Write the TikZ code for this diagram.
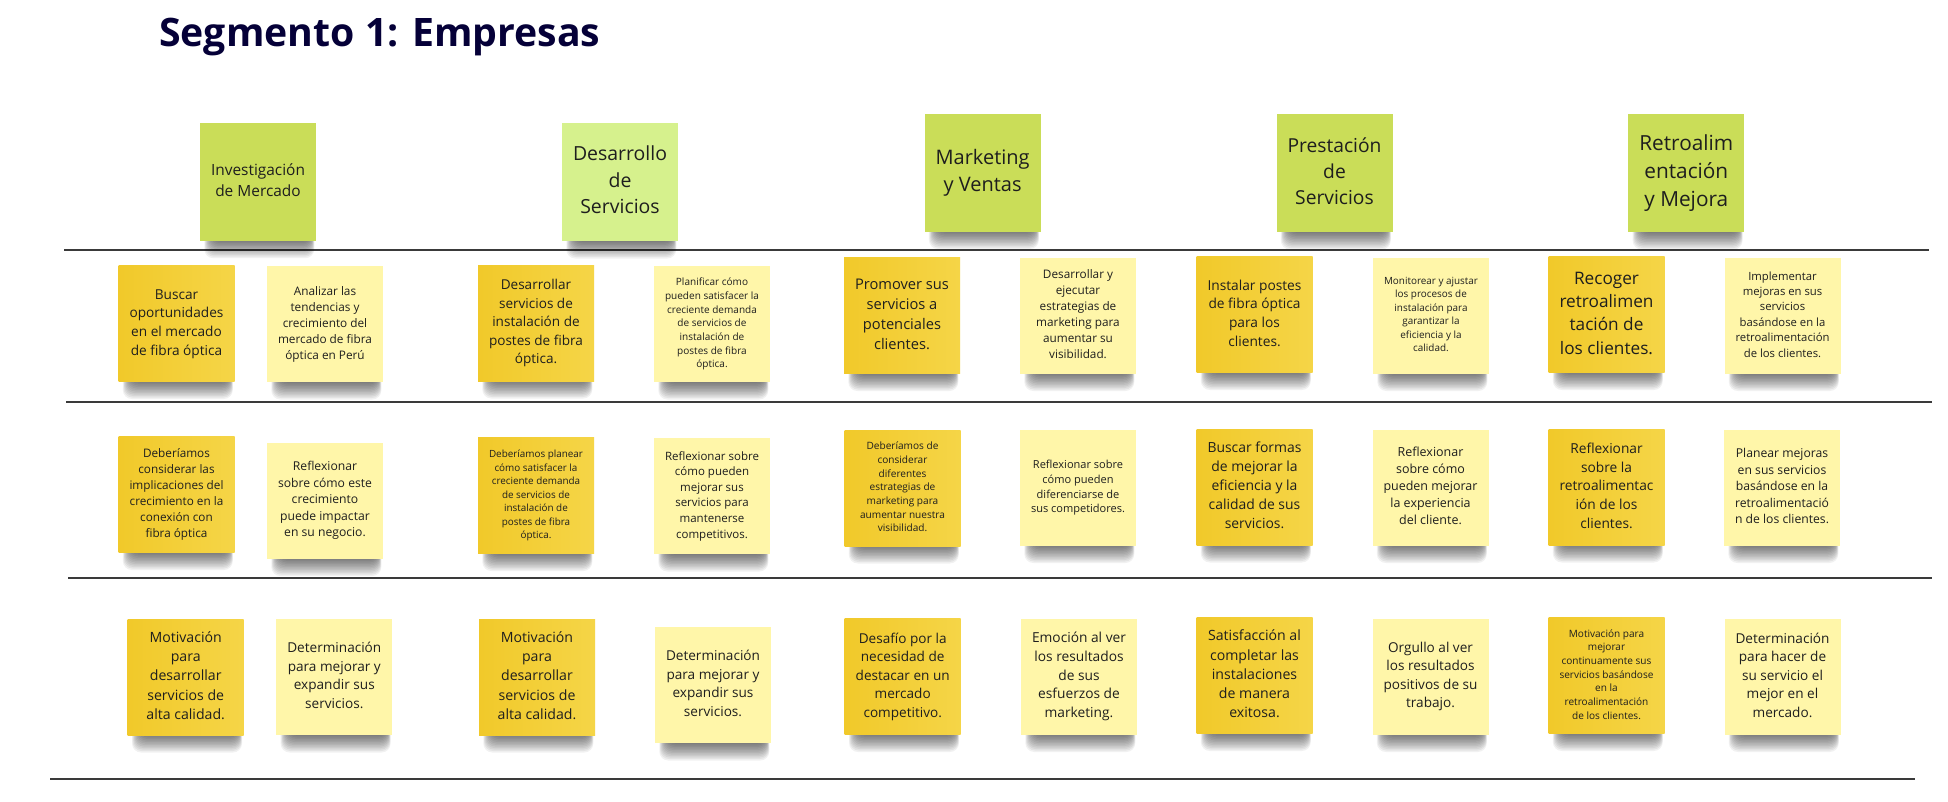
\documentclass[tikz,border=0pt]{standalone}
\usepackage{fontspec}
\setmainfont{Open Sans}
\usepackage{graphicx}
\usetikzlibrary{calc}

\definecolor{ndA}{HTML}{F1C92A}
\definecolor{ndB}{HTML}{F5D547}
\definecolor{notelight}{HTML}{FFF6A9}
\definecolor{headgreen}{HTML}{CADD58}
\definecolor{headpale}{HTML}{D6F18D}
\definecolor{inktext}{HTML}{1E1E1E}
\definecolor{titleink}{HTML}{050038}
\definecolor{rulegray}{HTML}{3A3A3A}

% Text of a note: set at 10pt, then scaled so that it fills the note
\newsavebox\fitbox
\newlength\fitw
\newlength\fith
\newcommand\fitlines[3]{%
  \sbox\fitbox{\fontsize{10pt}{13.6pt}\selectfont\begin{tabular}{@{}c@{}}#3\end{tabular}}%
  \setlength\fitw{\wd\fitbox}%
  \setlength\fith{\ht\fitbox}\addtolength\fith{\dp\fitbox}%
  \pgfmathsetmacro\fitscale{min(#1/\fitw,#2/\fith)}%
  \scalebox{\fitscale}{\usebox\fitbox}}

\tikzset{
  note/.style={minimum width=116pt, minimum height=116pt, inner sep=0pt, text=inktext},
  darknote/.style={note, left color=ndA, right color=ndB},
  lightnote/.style={note, fill=notelight},
  headnote/.style={note, minimum height=118pt, fill=headgreen},
  palehead/.style={headnote, fill=headpale},
  rule/.style={rulegray, line width=2.6pt},
}

% soft shadow under the bottom edge of a note, then the note itself
\newcommand\notebox[6]{% name, style, cx, cy, half height, lines
  \foreach \k in {0,...,11}{%
    \fill[black,opacity=0.055,rounded corners=9pt]
      ({#3-46-0.7*\k},{#4+#5-16}) rectangle ({#3+53+0.3*\k},{#4+#5+1+1.5*\k});}%
  \node[#2] (#1) at (#3,#4) {\fitlines{94}{96}{#6}};}

\begin{document}
\begin{tikzpicture}[x=1pt,y=-1pt]
\fill[white] (0,0) rectangle (1948,801);
\useasboundingbox (0,0) rectangle (1948,801);

% title
\node[anchor=base west, inner sep=0pt, text=titleink, font=\bfseries] (title) at (159,46)
  {\resizebox{441pt}{!}{Segmento 1: Empresas}};

% row separators
\coordinate (r1a) at (64,250);  \coordinate (r1b) at (1929,250);
\coordinate (r2a) at (66,402);  \coordinate (r2b) at (1932,402);
\coordinate (r3a) at (68,578);  \coordinate (r3b) at (1932,578);
\coordinate (r4a) at (50,779);  \coordinate (r4b) at (1915,779);
\draw[rule] (r1a) -- (r1b);
\draw[rule] (r2a) -- (r2b);
\draw[rule] (r3a) -- (r3b);
\draw[rule] (r4a) -- (r4b);

% stage headers
\notebox{h1}{headnote}{258}{181.7}{59}{Investigación\\de Mercado}
\notebox{h2}{palehead}{620}{182}{59}{Desarrollo\\de\\Servicios}
\notebox{h3}{headnote}{982.6}{172.5}{59}{Marketing\\y Ventas}
\notebox{h4}{headnote}{1334.5}{173}{59}{Prestación\\de\\Servicios}
\notebox{h5}{headnote}{1686.3}{173}{59}{Retroalim\\entación\\y Mejora}

% row 1
\notebox{a1}{darknote}{176.5}{323.5}{58}{Buscar\\oportunidades\\en el mercado\\de fibra óptica}
\notebox{b1}{lightnote}{325}{324}{58}{Analizar las\\tendencias y\\crecimiento del\\mercado de fibra\\óptica en Perú}
\notebox{c1}{darknote}{536}{323}{58}{Desarrollar\\servicios de\\instalación de\\postes de fibra\\óptica.}
\notebox{d1}{lightnote}{712}{324}{58}{Planificar cómo\\pueden satisfacer la\\creciente demanda\\de servicios de\\instalación de\\postes de fibra\\óptica.}
\notebox{e1}{darknote}{902}{315.5}{58}{Promover sus\\servicios a\\potenciales\\clientes.}
\notebox{f1}{lightnote}{1078}{315.5}{58}{Desarrollar y\\ejecutar\\estrategias de\\marketing para\\aumentar su\\visibilidad.}
\notebox{g1}{darknote}{1254.5}{314.5}{58}{Instalar postes\\de fibra óptica\\para los\\clientes.}
\notebox{i1x}{lightnote}{1431}{315.5}{58}{Monitorear y ajustar\\los procesos de\\instalación para\\garantizar la\\eficiencia y la\\calidad.}
\notebox{j1}{darknote}{1606.5}{314.5}{58}{Recoger\\retroalimen\\tación de\\los clientes.}
\notebox{k1}{lightnote}{1782.5}{315.5}{58}{Implementar\\mejoras en sus\\servicios\\basándose en la\\retroalimentación\\de los clientes.}

% row 2
\notebox{a2}{darknote}{176.5}{494.5}{58}{Deberíamos\\considerar las\\implicaciones del\\crecimiento en la\\conexión con\\fibra óptica}
\notebox{b2}{lightnote}{325}{500.5}{58}{Reflexionar\\sobre cómo este\\crecimiento\\puede impactar\\en su negocio.}
\notebox{c2}{darknote}{536}{495.5}{58}{Deberíamos planear\\cómo satisfacer la\\creciente demanda\\de servicios de\\instalación de\\postes de fibra\\óptica.}
\notebox{d2}{lightnote}{712}{496}{58}{Reflexionar sobre\\cómo pueden\\mejorar sus\\servicios para\\mantenerse\\competitivos.}
\notebox{e2}{darknote}{902.5}{488}{58}{Deberíamos de\\considerar\\diferentes\\estrategias de\\marketing para\\aumentar nuestra\\visibilidad.}
\notebox{f2}{lightnote}{1078}{487.5}{58}{Reflexionar sobre\\cómo pueden\\diferenciarse de\\sus competidores.}
\notebox{g2}{darknote}{1254.5}{487}{58}{Buscar formas\\de mejorar la\\eficiencia y la\\calidad de sus\\servicios.}
\notebox{i2x}{lightnote}{1430.5}{487.5}{58}{Reflexionar\\sobre cómo\\pueden mejorar\\la experiencia\\del cliente.}
\notebox{j2}{darknote}{1606.5}{487}{58}{Reflexionar\\sobre la\\retroalimentac\\ión de los\\clientes.}
\notebox{k2}{lightnote}{1782}{487.5}{58}{Planear mejoras\\en sus servicios\\basándose en la\\retroalimentació\\n de los clientes.}

% row 3
\notebox{a3}{darknote}{185.7}{677}{58}{Motivación\\para\\desarrollar\\servicios de\\alta calidad.}
\notebox{b3}{lightnote}{334.3}{677}{58}{Determinación\\para mejorar y\\expandir sus\\servicios.}
\notebox{c3}{darknote}{537}{677}{58}{Motivación\\para\\desarrollar\\servicios de\\alta calidad.}
\notebox{d3}{lightnote}{713}{685}{58}{Determinación\\para mejorar y\\expandir sus\\servicios.}
\notebox{e3}{darknote}{902.7}{676.5}{58}{Desafío por la\\necesidad de\\destacar en un\\mercado\\competitivo.}
\notebox{f3}{lightnote}{1079}{676.5}{58}{Emoción al ver\\los resultados\\de sus\\esfuerzos de\\marketing.}
\notebox{g3}{darknote}{1254.5}{675.5}{58}{Satisfacción al\\completar las\\instalaciones\\de manera\\exitosa.}
\notebox{i3x}{lightnote}{1430.5}{676.5}{58}{Orgullo al ver\\los resultados\\positivos de su\\trabajo.}
\notebox{j3}{darknote}{1606.5}{675.5}{58}{Motivación para\\mejorar\\continuamente sus\\servicios basándose\\en la\\retroalimentación\\de los clientes.}
\notebox{k3}{lightnote}{1782.5}{676.5}{58}{Determinación\\para hacer de\\su servicio el\\mejor en el\\mercado.}
\end{tikzpicture}
\end{document}
